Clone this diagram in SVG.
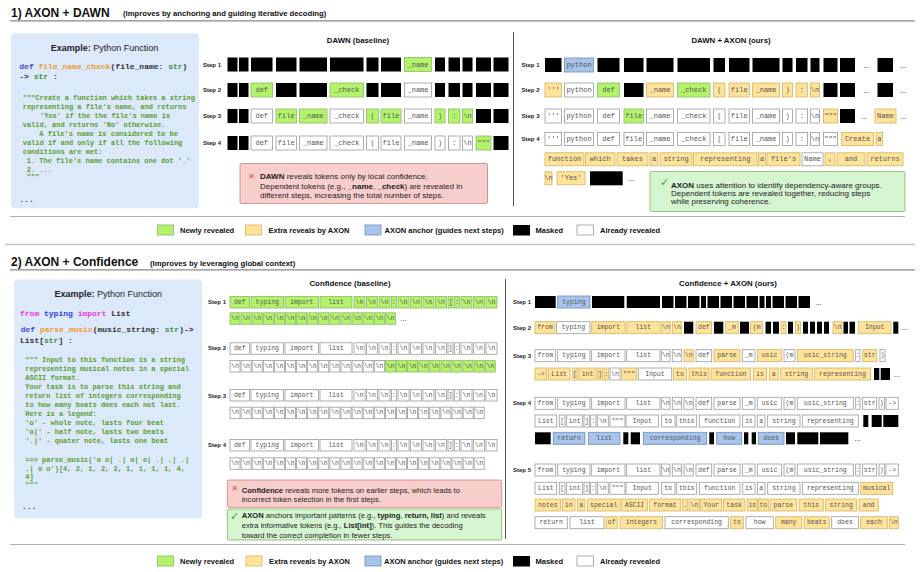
<svg xmlns="http://www.w3.org/2000/svg" width="921" height="572" viewBox="0 0 921 572">
<style>
.k{fill:#000}
.w{fill:#fff;stroke:#9a9a9a;stroke-width:.8}
.g{fill:#b3f36b;stroke:#8cb86b;stroke-width:.8}
.y{fill:#ffe39b;stroke:#d2b460;stroke-width:.8}
.b{fill:#a9c4eb;stroke:#6c8ebf;stroke-width:.8}
.t{font-family:"Liberation Mono","DejaVu Sans Mono",monospace;font-size:7px;fill:#555;text-anchor:middle;dominant-baseline:central}
.u{font-family:"Liberation Mono","DejaVu Sans Mono",monospace;font-size:6.5px;fill:#555;text-anchor:middle;dominant-baseline:central}
.st{font-family:"Liberation Sans",Arial,sans-serif;font-weight:bold;font-size:6px;fill:#222;dominant-baseline:central}
.dots{font-family:"Liberation Sans",Arial,sans-serif;font-size:8px;fill:#333;text-anchor:middle;dominant-baseline:central}
.h1{font-family:"Liberation Sans",Arial,sans-serif;font-weight:bold;font-size:12px;fill:#111}
.h2{font-family:"Liberation Sans",Arial,sans-serif;font-weight:bold;font-size:7.7px;fill:#111}
.ph{font-family:"Liberation Sans",Arial,sans-serif;font-weight:bold;font-size:7.8px;fill:#111;text-anchor:middle}
.lg{font-family:"Liberation Sans",Arial,sans-serif;font-weight:bold;font-size:7.5px;fill:#111;dominant-baseline:central}
.note{font-family:"Liberation Sans",Arial,sans-serif;font-size:8px;fill:#222}
.note2{font-family:"Liberation Sans",Arial,sans-serif;font-size:7.6px;fill:#222}
.ex{font-family:"Liberation Sans",Arial,sans-serif;font-size:9px;fill:#222;text-anchor:middle}
.code{font-family:"Liberation Mono","DejaVu Sans Mono",monospace;font-weight:bold;font-size:7px;fill:#5a9e2e}
.sig{font-family:"Liberation Mono","DejaVu Sans Mono",monospace;font-weight:bold;font-size:8px;fill:#333}
.panel{fill:#dce9fa}
.red{fill:#f8cecc;stroke:#c9827f;stroke-width:.8}
.grn{fill:#d5f5d0;stroke:#82b366;stroke-width:.8}
.xm{font-family:"DejaVu Sans",sans-serif;font-weight:bold;font-size:8px;fill:#e0524f}
.ck{font-family:"DejaVu Sans",sans-serif;font-weight:bold;font-size:11px;fill:#43a047}
.rule{stroke:#888;stroke-width:1.2}
.sep{stroke:#c8c8c8;stroke-width:1.5}
.thin{stroke:#b0b0b0;stroke-width:1}
.div{stroke:#555;stroke-width:1}
</style>

<!-- ===== Section 1 ===== -->
<g id="section1-title">
<text class="h1" x="11" y="16.5">1) AXON + DAWN</text>
<text class="h2" x="123" y="16">(Improves by anchoring and guiding iterative decoding)</text>
<line class="rule" x1="10" y1="20.8" x2="915" y2="20.8"/>
</g>

<g id="example1">
<rect class="panel" x="11" y="33.3" width="188" height="175" rx="4"/>
<text class="ex" x="104.5" y="50.5"><tspan font-weight="bold">Example:</tspan> Python Function</text>
<text class="sig" x="19.3" y="68.5"><tspan fill="#3d4ed8">def</tspan> <tspan fill="#f39a2e">file_name_check</tspan>(file_name: <tspan fill="#3f8f3f">str</tspan>)</text>
<text class="sig" x="19.3" y="79">-&gt; <tspan fill="#3f8f3f">str</tspan> :</text>
<text class="code" x="22.7" y="99.8">"""Create a function which takes a string</text>
<text class="code" x="22.7" y="108.5">representing a file's name, and returns</text>
<text class="code" x="40" y="117.5">'Yes' if the the file's name is</text>
<text class="code" x="22.7" y="126.5">valid, and returns 'No' otherwise.</text>
<text class="code" x="39.3" y="135.5">A file's name is considered to be</text>
<text class="code" x="22.7" y="144.5">valid if and only if all the following</text>
<text class="code" x="22.7" y="153.5">conditions are met:</text>
<text class="code" x="26.7" y="162.5">1. The file's name contains one dot '.'</text>
<text class="code" x="26.7" y="171.5">2. ...</text>
<text class="code" x="26.7" y="179.3" fill="#8fbf70">"""</text>
<text class="sig" x="19.3" y="201.5" font-size="7">...</text>
</g>

<g id="dawn-baseline">
<text class="ph" x="358" y="42.8">DAWN (baseline)</text>
<text class="st" x="203" y="64.5">Step 1</text>
<text class="st" x="203" y="90">Step 2</text>
<text class="st" x="203" y="116">Step 3</text>
<text class="st" x="203" y="143">Step 4</text>
<!-- step 1 -->
<rect class="k" x="227.5" y="57.5" width="10" height="14"/>
<rect class="k" x="239" y="57.5" width="9.5" height="14"/>
<rect class="k" x="251" y="57.5" width="21.5" height="14"/>
<rect class="k" x="276" y="57.5" width="20.5" height="14"/>
<rect class="k" x="299.5" y="57.5" width="27.5" height="14"/>
<rect class="k" x="330" y="57.5" width="33.5" height="14"/>
<rect class="k" x="366.5" y="57.5" width="12" height="14"/>
<rect class="k" x="381" y="57.5" width="20" height="14"/>
<rect class="g" x="404.5" y="57.5" width="27" height="14"/><text class="t" x="418" y="64.5">_name</text>
<rect class="k" x="435" y="57.5" width="10" height="14"/>
<rect class="k" x="448.5" y="57.5" width="11.5" height="14"/>
<rect class="k" x="462.5" y="57.5" width="10" height="14"/>
<rect class="k" x="476" y="57.5" width="15" height="14"/>
<rect class="k" x="493.5" y="57.5" width="15" height="14"/>
<!-- step 2 -->
<rect class="k" x="227.5" y="83" width="10" height="14"/>
<rect class="k" x="239" y="83" width="9.5" height="14"/>
<rect class="g" x="251" y="83" width="21.5" height="14"/><text class="t" x="261.75" y="90">def</text>
<rect class="k" x="276" y="83" width="20.5" height="14"/>
<rect class="k" x="299.5" y="83" width="27.5" height="14"/>
<rect class="g" x="330" y="83" width="33.5" height="14"/><text class="t" x="346.75" y="90">_check</text>
<rect class="k" x="366.5" y="83" width="12" height="14"/>
<rect class="k" x="381" y="83" width="20" height="14"/>
<rect class="w" x="404.5" y="83" width="27" height="14"/><text class="t" x="418" y="90">_name</text>
<rect class="k" x="435" y="83" width="10" height="14"/>
<rect class="k" x="448.5" y="83" width="11.5" height="14"/>
<rect class="k" x="462.5" y="83" width="10" height="14"/>
<rect class="k" x="476" y="83" width="15" height="14"/>
<rect class="k" x="493.5" y="83" width="15" height="14"/>
<!-- step 3 -->
<rect class="k" x="227.5" y="109" width="10" height="14"/>
<rect class="k" x="239" y="109" width="9.5" height="14"/>
<rect class="w" x="251" y="109" width="21.5" height="14"/><text class="t" x="261.75" y="116">def</text>
<rect class="g" x="276" y="109" width="20.5" height="14"/><text class="t" x="286.25" y="116">file</text>
<rect class="g" x="299.5" y="109" width="27.5" height="14"/><text class="t" x="313.25" y="116">_name</text>
<rect class="w" x="330" y="109" width="33.5" height="14"/><text class="t" x="346.75" y="116">_check</text>
<rect class="g" x="366.5" y="109" width="12" height="14"/><text class="t" x="372.5" y="116">(</text>
<rect class="g" x="381" y="109" width="20" height="14"/><text class="t" x="391" y="116">file</text>
<rect class="w" x="404.5" y="109" width="27" height="14"/><text class="t" x="418" y="116">_name</text>
<rect class="g" x="435" y="109" width="10" height="14"/><text class="t" x="440" y="116">)</text>
<rect class="g" x="448.5" y="109" width="11.5" height="14"/><text class="t" x="454.25" y="116">:</text>
<rect class="g" x="462.5" y="109" width="10" height="14"/><text class="t" x="467.5" y="116">\n</text>
<rect class="k" x="476" y="109" width="15" height="14"/>
<rect class="k" x="493.5" y="109" width="15" height="14"/>
<!-- step 4 -->
<rect class="k" x="227.5" y="136" width="10" height="14"/>
<rect class="k" x="239" y="136" width="9.5" height="14"/>
<rect class="w" x="251" y="136" width="21.5" height="14"/><text class="t" x="261.75" y="143">def</text>
<rect class="w" x="276" y="136" width="20.5" height="14"/><text class="t" x="286.25" y="143">file</text>
<rect class="w" x="299.5" y="136" width="27.5" height="14"/><text class="t" x="313.25" y="143">_name</text>
<rect class="w" x="330" y="136" width="33.5" height="14"/><text class="t" x="346.75" y="143">_check</text>
<rect class="w" x="366.5" y="136" width="12" height="14"/><text class="t" x="372.5" y="143">(</text>
<rect class="w" x="381" y="136" width="20" height="14"/><text class="t" x="391" y="143">file</text>
<rect class="w" x="404.5" y="136" width="27" height="14"/><text class="t" x="418" y="143">_name</text>
<rect class="w" x="435" y="136" width="10" height="14"/><text class="t" x="440" y="143">)</text>
<rect class="w" x="448.5" y="136" width="11.5" height="14"/><text class="t" x="454.25" y="143">:</text>
<rect class="w" x="462.5" y="136" width="10" height="14"/><text class="t" x="467.5" y="143">\n</text>
<rect class="g" x="476" y="136" width="15" height="14"/><text class="t" x="483.5" y="143">"""</text>
<rect class="k" x="493.5" y="136" width="15" height="14"/>
</g>

<g id="dawn-note">
<rect class="red" x="240" y="163.5" width="247.5" height="40" rx="1.5"/>
<text class="xm" x="248" y="179">✕</text>
<text class="note" x="260" y="178.8"><tspan font-weight="bold">DAWN</tspan> reveals tokens only by local confidence.</text>
<text class="note" x="260" y="188.5">Dependent tokens (e.g., <tspan font-weight="bold">_name</tspan>, <tspan font-weight="bold">_check</tspan>) are revealed in</text>
<text class="note" x="260" y="197.8">different steps, increasing the total number of steps.</text>
</g>

<line class="div" x1="513.5" y1="32" x2="513.5" y2="206"/>

<g id="dawn-axon">
<text class="ph" x="731" y="42.8">DAWN + AXON (ours)</text>
<text class="st" x="521.5" y="65" font-size="5.6">Step 1</text>
<text class="st" x="521.5" y="90" font-size="5.6">Step 2</text>
<text class="st" x="521.5" y="116" font-size="5.6">Step 3</text>
<text class="st" x="521.5" y="139" font-size="5.6">Step 4</text>
<!-- step 1 -->
<rect class="k" x="545" y="58" width="16.5" height="14"/>
<rect class="b" x="564.5" y="58" width="29" height="14"/><text class="t" x="579" y="65">python</text>
<rect class="k" x="597.5" y="58" width="22" height="14"/>
<rect class="k" x="624" y="58" width="19.5" height="14"/>
<rect class="k" x="646.5" y="58" width="27" height="14"/>
<rect class="k" x="677.5" y="58" width="32.5" height="14"/>
<rect class="k" x="713.5" y="58" width="11.5" height="14"/>
<rect class="k" x="729" y="58" width="20.5" height="14"/>
<rect class="k" x="752.5" y="58" width="27" height="14"/>
<rect class="k" x="782.5" y="58" width="10" height="14"/>
<rect class="k" x="796" y="58" width="11.5" height="14"/>
<rect class="k" x="810.5" y="58" width="9" height="14"/>
<rect class="k" x="823.5" y="58" width="14" height="14"/>
<rect class="k" x="840" y="58" width="15" height="14"/>
<text class="dots" x="866.7" y="65">...</text>
<rect class="k" x="877.5" y="58" width="15.5" height="14"/>
<text class="dots" x="902.5" y="65">...</text>
<!-- step 2 -->
<rect class="y" x="545" y="83" width="16.5" height="14"/><text class="t" x="553.25" y="90">'''</text>
<rect class="w" x="564.5" y="83" width="29" height="14"/><text class="t" x="579" y="90">python</text>
<rect class="g" x="597.5" y="83" width="22" height="14"/><text class="t" x="608.5" y="90">def</text>
<rect class="k" x="624" y="83" width="19.5" height="14"/>
<rect class="y" x="646.5" y="83" width="27" height="14"/><text class="t" x="660" y="90">_name</text>
<rect class="g" x="677.5" y="83" width="32.5" height="14"/><text class="t" x="693.75" y="90">_check</text>
<rect class="y" x="713.5" y="83" width="11.5" height="14"/><text class="t" x="719.25" y="90">(</text>
<rect class="y" x="729" y="83" width="20.5" height="14"/><text class="t" x="739.25" y="90">file</text>
<rect class="y" x="752.5" y="83" width="27" height="14"/><text class="t" x="766" y="90">_name</text>
<rect class="y" x="782.5" y="83" width="10" height="14"/><text class="t" x="787.5" y="90">)</text>
<rect class="y" x="796" y="83" width="11.5" height="14"/><text class="t" x="801.75" y="90">:</text>
<rect class="y" x="810.5" y="83" width="9" height="14"/><text class="t" x="815" y="90">\n</text>
<rect class="k" x="823.5" y="83" width="14" height="14"/>
<rect class="k" x="840" y="83" width="15" height="14"/>
<text class="dots" x="866.7" y="90">...</text>
<rect class="k" x="877.5" y="83" width="15.5" height="14"/>
<text class="dots" x="902.5" y="90">...</text>
<!-- step 3 -->
<rect class="w" x="545" y="109" width="16.5" height="14"/><text class="t" x="553.25" y="116">'''</text>
<rect class="w" x="564.5" y="109" width="29" height="14"/><text class="t" x="579" y="116">python</text>
<rect class="w" x="597.5" y="109" width="22" height="14"/><text class="t" x="608.5" y="116">def</text>
<rect class="g" x="624" y="109" width="19.5" height="14"/><text class="t" x="633.75" y="116">file</text>
<rect class="w" x="646.5" y="109" width="27" height="14"/><text class="t" x="660" y="116">_name</text>
<rect class="w" x="677.5" y="109" width="32.5" height="14"/><text class="t" x="693.75" y="116">_check</text>
<rect class="w" x="713.5" y="109" width="11.5" height="14"/><text class="t" x="719.25" y="116">(</text>
<rect class="w" x="729" y="109" width="20.5" height="14"/><text class="t" x="739.25" y="116">file</text>
<rect class="w" x="752.5" y="109" width="27" height="14"/><text class="t" x="766" y="116">_name</text>
<rect class="w" x="782.5" y="109" width="10" height="14"/><text class="t" x="787.5" y="116">)</text>
<rect class="w" x="796" y="109" width="11.5" height="14"/><text class="t" x="801.75" y="116">:</text>
<rect class="w" x="810.5" y="109" width="9" height="14"/><text class="t" x="815" y="116">\n</text>
<rect class="y" x="823.5" y="109" width="14" height="14"/><text class="t" x="830.5" y="116">"""</text>
<rect class="k" x="840" y="109" width="15" height="14"/>
<text class="dots" x="864" y="116">...</text>
<rect class="y" x="875" y="109" width="21" height="14"/><text class="t" x="885.5" y="116">Name</text>
<text class="dots" x="903.5" y="116">...</text>
<!-- step 4 -->
<rect class="w" x="545" y="132.5" width="16.5" height="13"/><text class="t" x="553.25" y="139">'''</text>
<rect class="w" x="564.5" y="132.5" width="29" height="13"/><text class="t" x="579" y="139">python</text>
<rect class="w" x="597.5" y="132.5" width="22" height="13"/><text class="t" x="608.5" y="139">def</text>
<rect class="w" x="624" y="132.5" width="19.5" height="13"/><text class="t" x="633.75" y="139">file</text>
<rect class="w" x="646.5" y="132.5" width="27" height="13"/><text class="t" x="660" y="139">_name</text>
<rect class="w" x="677.5" y="132.5" width="32.5" height="13"/><text class="t" x="693.75" y="139">_check</text>
<rect class="w" x="713.5" y="132.5" width="11.5" height="13"/><text class="t" x="719.25" y="139">(</text>
<rect class="w" x="729" y="132.5" width="20.5" height="13"/><text class="t" x="739.25" y="139">file</text>
<rect class="w" x="752.5" y="132.5" width="27" height="13"/><text class="t" x="766" y="139">_name</text>
<rect class="w" x="782.5" y="132.5" width="10" height="13"/><text class="t" x="787.5" y="139">)</text>
<rect class="w" x="796" y="132.5" width="11.5" height="13"/><text class="t" x="801.75" y="139">:</text>
<rect class="w" x="810.5" y="132.5" width="9" height="13"/><text class="t" x="815" y="139">\n</text>
<rect class="w" x="823.5" y="132.5" width="14" height="13"/><text class="t" x="830.5" y="139">"""</text>
<rect class="y" x="841.7" y="132.5" width="31.7" height="13"/><text class="t" x="857.5" y="139">Create</text>
<rect class="y" x="876" y="132.5" width="6.7" height="13"/><text class="t" x="879.3" y="139">a</text>
<!-- step 4, line 2 -->
<rect class="y" x="545" y="152.8" width="39" height="13"/><text class="t" x="564.5" y="159.3">function</text>
<rect class="y" x="585.5" y="152.8" width="29.5" height="13"/><text class="t" x="600.25" y="159.3">which</text>
<rect class="y" x="617" y="152.8" width="31" height="13"/><text class="t" x="632.5" y="159.3">takes</text>
<rect class="y" x="650" y="152.8" width="8" height="13"/><text class="t" x="654" y="159.3">a</text>
<rect class="y" x="660" y="152.8" width="32" height="13"/><text class="t" x="676" y="159.3">string</text>
<rect class="y" x="693.5" y="152.8" width="63.5" height="13"/><text class="t" x="725.25" y="159.3">representing</text>
<rect class="y" x="758.5" y="152.8" width="7" height="13"/><text class="t" x="762" y="159.3">a</text>
<rect class="y" x="767" y="152.8" width="33" height="13"/><text class="t" x="783.5" y="159.3">file's</text>
<rect class="w" x="802" y="152.8" width="21" height="13"/><text class="t" x="812.5" y="159.3">Name</text>
<rect class="y" x="825" y="152.8" width="10" height="13"/><text class="t" x="830" y="159.3">,</text>
<rect class="y" x="837" y="152.8" width="28" height="13"/><text class="t" x="851" y="159.3">and</text>
<rect class="y" x="867" y="152.8" width="36" height="13"/><text class="t" x="885" y="159.3">returns</text>
<!-- step 4, line 3 -->
<rect class="y" x="545" y="171.8" width="7" height="13"/><text class="t" x="548.5" y="178.3">\n</text>
<rect class="y" x="557" y="171.8" width="28" height="13"/><text class="t" x="571" y="178.3">'Yes'</text>
<rect class="k" x="590" y="171.3" width="32.7" height="14"/>
<text class="dots" x="631" y="178.3">...</text>
</g>

<g id="axon-note-1">
<rect class="grn" x="650" y="171.5" width="255" height="40" rx="1.5"/>
<text class="ck" x="660" y="186">✓</text>
<text class="note" x="671" y="187.8"><tspan font-weight="bold">AXON</tspan> uses attention to identify dependency-aware groups.</text>
<text class="note" x="671" y="196.1">Dependent tokens are revealed together, reducing steps</text>
<text class="note" x="671" y="203.8">while preserving coherence.</text>
</g>

<line class="thin" x1="10" y1="216.5" x2="905" y2="216.5"/>

<g id="legend-1">
<rect class="g" x="157.5" y="225" width="16" height="10"/><text class="lg" x="180" y="230.5">Newly revealed</text>
<rect class="y" x="245.5" y="225" width="16" height="10"/><text class="lg" x="268.5" y="230.5">Extra reveals by AXON</text>
<rect class="b" x="365" y="225" width="16" height="10"/><text class="lg" x="384.5" y="230.5">AXON anchor (guides next steps)</text>
<rect class="k" x="513" y="225" width="17" height="10.5"/><text class="lg" x="535.5" y="230.5">Masked</text>
<rect class="w" x="577" y="225" width="16.5" height="10" stroke="#333"/><text class="lg" x="600" y="230.5">Already revealed</text>
</g>

<line class="sep" x1="5" y1="244.5" x2="915" y2="244.5"/>

<!-- ===== Section 2 ===== -->
<g id="section2-title">
<text class="h1" x="11" y="266">2) AXON + Confidence</text>
<text class="h2" x="150" y="265.5">(Improves by leveraging global context)</text>
<line class="rule" x1="10" y1="269.8" x2="915" y2="269.8"/>
</g>

<g id="example2">
<rect class="panel" x="14" y="279.5" width="188" height="239" rx="4"/>
<text class="ex" x="108.3" y="297.2"><tspan font-weight="bold">Example:</tspan> Python Function</text>
<text class="sig" x="20" y="316"><tspan fill="#e040e0">from</tspan> <tspan fill="#2f3fe0">typing</tspan> <tspan fill="#e040e0">import</tspan> List</text>
<text class="sig" x="20.7" y="332"><tspan fill="#3d4ed8">def</tspan> <tspan fill="#f39a2e">parse_music</tspan>(music_string: <tspan fill="#3f8f3f">str</tspan>)-&gt;</text>
<text class="sig" x="20" y="342.8">List[<tspan fill="#3f8f3f">str</tspan>] :</text>
<text class="code" x="25.3" y="361.7">""" Input to this function is a string</text>
<text class="code" x="25.3" y="371.1">representing musical notes in a special</text>
<text class="code" x="25.3" y="380.1">ASCII format.</text>
<text class="code" x="25.3" y="389.1">Your task is to parse this string and</text>
<text class="code" x="25.3" y="398.1">return list of integers corresponding</text>
<text class="code" x="25.3" y="407.1">to how many beats does each not last.</text>
<text class="code" x="25.3" y="416.1">Here is a legend:</text>
<text class="code" x="25.3" y="425.1">'o' - whole note, lasts four beat</text>
<text class="code" x="25.3" y="433.7">'o|' - half note, lasts two beats</text>
<text class="code" x="25.3" y="442.7">'.|' - quater note, lasts one beat</text>
<text class="code" x="25.3" y="461.7">&gt;&gt;&gt; parse_music('o o| .| o| o| .| .| .|</text>
<text class="code" x="25.3" y="470.7">.| o o')[4, 2, 1, 2, 2, 1, 1, 1, 1, 4,</text>
<text class="code" x="25.3" y="479.1">4]</text>
<text class="code" x="25.3" y="486.7" fill="#8fbf70">"""</text>
<text class="sig" x="22" y="509" font-size="7">...</text>
</g>

<g id="confidence-baseline">
<text class="ph" x="350" y="285.5">Confidence (baseline)</text>
<text class="st" x="208" y="302">Step 1</text>
<text class="st" x="208" y="348.3">Step 2</text>
<text class="st" x="208" y="396">Step 3</text>
<text class="st" x="208" y="444.7">Step 4</text>
<!-- step 1 row 1 -->
<rect class="g" x="230" y="296.5" width="19.5" height="11.5"/><text class="u" x="239.75" y="302.25">def</text>
<rect class="g" x="251" y="296.5" width="32.5" height="11.5"/><text class="u" x="267.25" y="302.25">typing</text>
<rect class="g" x="285" y="296.5" width="33.5" height="11.5"/><text class="u" x="301.75" y="302.25">import</text>
<rect class="g" x="320" y="296.5" width="32" height="11.5"/><text class="u" x="336" y="302.25">list</text>
<rect class="g" x="354" y="296.5" width="11" height="11.5"/><text class="u" x="359.5" y="302.25">\n</text>
<rect class="g" x="366.5" y="296.5" width="11" height="11.5"/><text class="u" x="372" y="302.25">\n</text>
<rect class="g" x="379" y="296.5" width="11" height="11.5"/><text class="u" x="384.5" y="302.25">\n</text>
<rect class="g" x="391.5" y="296.5" width="5" height="11.5"/><text class="u" x="394" y="302.25">:</text>
<rect class="g" x="398" y="296.5" width="11" height="11.5"/><text class="u" x="403.5" y="302.25">\n</text>
<rect class="g" x="410.5" y="296.5" width="11" height="11.5"/><text class="u" x="416" y="302.25">\n</text>
<rect class="g" x="423" y="296.5" width="11" height="11.5"/><text class="u" x="428.5" y="302.25">\n</text>
<rect class="g" x="435.5" y="296.5" width="11" height="11.5"/><text class="u" x="441" y="302.25">\n</text>
<rect class="g" x="448" y="296.5" width="5" height="11.5"/><text class="u" x="450.5" y="302.25">]</text>
<rect class="g" x="454.5" y="296.5" width="5" height="11.5"/><text class="u" x="457" y="302.25">:</text>
<rect class="g" x="461" y="296.5" width="11" height="11.5"/><text class="u" x="466.5" y="302.25">\n</text>
<rect class="g" x="473.5" y="296.5" width="11" height="11.5"/><text class="u" x="479" y="302.25">\n</text>
<rect class="g" x="486" y="296.5" width="11" height="11.5"/><text class="u" x="491.5" y="302.25">\n</text>
<!-- step 1 row 2 -->
<rect class="g" x="230" y="312.8" width="10" height="11.5"/><text class="u" x="235" y="318.55">\n</text>
<rect class="g" x="241.1" y="312.8" width="10" height="11.5"/><text class="u" x="246.1" y="318.55">\n</text>
<rect class="g" x="252.2" y="312.8" width="10" height="11.5"/><text class="u" x="257.2" y="318.55">\n</text>
<rect class="g" x="263.3" y="312.8" width="10" height="11.5"/><text class="u" x="268.3" y="318.55">\n</text>
<rect class="g" x="274.4" y="312.8" width="10" height="11.5"/><text class="u" x="279.4" y="318.55">\n</text>
<rect class="g" x="285.5" y="312.8" width="10" height="11.5"/><text class="u" x="290.5" y="318.55">\n</text>
<rect class="g" x="296.6" y="312.8" width="10" height="11.5"/><text class="u" x="301.6" y="318.55">\n</text>
<rect class="g" x="307.7" y="312.8" width="10" height="11.5"/><text class="u" x="312.7" y="318.55">\n</text>
<rect class="g" x="318.8" y="312.8" width="10" height="11.5"/><text class="u" x="323.8" y="318.55">\n</text>
<rect class="g" x="329.9" y="312.8" width="10" height="11.5"/><text class="u" x="334.9" y="318.55">\n</text>
<rect class="g" x="341" y="312.8" width="10" height="11.5"/><text class="u" x="346" y="318.55">\n</text>
<rect class="g" x="352.1" y="312.8" width="10" height="11.5"/><text class="u" x="357.1" y="318.55">\n</text>
<rect class="g" x="363.2" y="312.8" width="10" height="11.5"/><text class="u" x="368.2" y="318.55">\n</text>
<rect class="g" x="374.3" y="312.8" width="10" height="11.5"/><text class="u" x="379.3" y="318.55">\n</text>
<rect class="g" x="385.4" y="312.8" width="10" height="11.5"/><text class="u" x="390.4" y="318.55">\n</text>
<text class="dots" x="403.5" y="318.5">...</text>
<!-- step 2 row 1 -->
<rect class="w" x="230" y="342.8" width="19.5" height="11.5"/><text class="u" x="239.75" y="348.55">def</text>
<rect class="w" x="251" y="342.8" width="32.5" height="11.5"/><text class="u" x="267.25" y="348.55">typing</text>
<rect class="w" x="285" y="342.8" width="33.5" height="11.5"/><text class="u" x="301.75" y="348.55">import</text>
<rect class="w" x="320" y="342.8" width="32" height="11.5"/><text class="u" x="336" y="348.55">list</text>
<rect class="w" x="354" y="342.8" width="11" height="11.5"/><text class="u" x="359.5" y="348.55">\n</text>
<rect class="w" x="366.5" y="342.8" width="11" height="11.5"/><text class="u" x="372" y="348.55">\n</text>
<rect class="w" x="379" y="342.8" width="11" height="11.5"/><text class="u" x="384.5" y="348.55">\n</text>
<rect class="w" x="391.5" y="342.8" width="5" height="11.5"/><text class="u" x="394" y="348.55">:</text>
<rect class="w" x="398" y="342.8" width="11" height="11.5"/><text class="u" x="403.5" y="348.55">\n</text>
<rect class="w" x="410.5" y="342.8" width="11" height="11.5"/><text class="u" x="416" y="348.55">\n</text>
<rect class="w" x="423" y="342.8" width="11" height="11.5"/><text class="u" x="428.5" y="348.55">\n</text>
<rect class="w" x="435.5" y="342.8" width="11" height="11.5"/><text class="u" x="441" y="348.55">\n</text>
<rect class="w" x="448" y="342.8" width="5" height="11.5"/><text class="u" x="450.5" y="348.55">]</text>
<rect class="w" x="454.5" y="342.8" width="5" height="11.5"/><text class="u" x="457" y="348.55">:</text>
<rect class="w" x="461" y="342.8" width="11" height="11.5"/><text class="u" x="466.5" y="348.55">\n</text>
<rect class="w" x="473.5" y="342.8" width="11" height="11.5"/><text class="u" x="479" y="348.55">\n</text>
<rect class="w" x="486" y="342.8" width="11" height="11.5"/><text class="u" x="491.5" y="348.55">\n</text>
<!-- step 2 row 2 -->
<rect class="w" x="230" y="360.5" width="10" height="11.5"/><text class="u" x="235" y="366.25">\n</text>
<rect class="w" x="241.1" y="360.5" width="10" height="11.5"/><text class="u" x="246.1" y="366.25">\n</text>
<rect class="w" x="252.2" y="360.5" width="10" height="11.5"/><text class="u" x="257.2" y="366.25">\n</text>
<rect class="w" x="263.3" y="360.5" width="10" height="11.5"/><text class="u" x="268.3" y="366.25">\n</text>
<rect class="w" x="274.4" y="360.5" width="10" height="11.5"/><text class="u" x="279.4" y="366.25">\n</text>
<rect class="w" x="285.5" y="360.5" width="10" height="11.5"/><text class="u" x="290.5" y="366.25">\n</text>
<rect class="w" x="296.6" y="360.5" width="10" height="11.5"/><text class="u" x="301.6" y="366.25">\n</text>
<rect class="w" x="307.7" y="360.5" width="10" height="11.5"/><text class="u" x="312.7" y="366.25">\n</text>
<rect class="w" x="318.8" y="360.5" width="10" height="11.5"/><text class="u" x="323.8" y="366.25">\n</text>
<rect class="w" x="329.9" y="360.5" width="10" height="11.5"/><text class="u" x="334.9" y="366.25">\n</text>
<rect class="w" x="341" y="360.5" width="10" height="11.5"/><text class="u" x="346" y="366.25">\n</text>
<rect class="w" x="352.1" y="360.5" width="10" height="11.5"/><text class="u" x="357.1" y="366.25">\n</text>
<rect class="w" x="363.2" y="360.5" width="10" height="11.5"/><text class="u" x="368.2" y="366.25">\n</text>
<rect class="w" x="374.3" y="360.5" width="10" height="11.5"/><text class="u" x="379.3" y="366.25">\n</text>
<rect class="g" x="385.4" y="360.5" width="10" height="11.5"/><text class="u" x="390.4" y="366.25">\n</text>
<rect class="g" x="396.5" y="360.5" width="10" height="11.5"/><text class="u" x="401.5" y="366.25">\n</text>
<rect class="g" x="407.6" y="360.5" width="10" height="11.5"/><text class="u" x="412.6" y="366.25">\n</text>
<rect class="g" x="418.7" y="360.5" width="10" height="11.5"/><text class="u" x="423.7" y="366.25">\n</text>
<rect class="g" x="429.8" y="360.5" width="10" height="11.5"/><text class="u" x="434.8" y="366.25">\n</text>
<rect class="g" x="440.9" y="360.5" width="10" height="11.5"/><text class="u" x="445.9" y="366.25">\n</text>
<rect class="g" x="452" y="360.5" width="10" height="11.5"/><text class="u" x="457" y="366.25">\n</text>
<rect class="g" x="463.1" y="360.5" width="10" height="11.5"/><text class="u" x="468.1" y="366.25">\n</text>
<rect class="g" x="474.2" y="360.5" width="10" height="11.5"/><text class="u" x="479.2" y="366.25">\n</text>
<rect class="g" x="485.3" y="360.5" width="10" height="11.5"/><text class="u" x="490.3" y="366.25">\n</text>
<!-- step 3 row 1 -->
<rect class="w" x="230" y="389.5" width="19.5" height="11.5"/><text class="u" x="239.75" y="395.25">def</text>
<rect class="w" x="251" y="389.5" width="32.5" height="11.5"/><text class="u" x="267.25" y="395.25">typing</text>
<rect class="w" x="285" y="389.5" width="33.5" height="11.5" fill="#eee"/><text class="u" x="301.75" y="395.25">import</text>
<rect class="w" x="320" y="389.5" width="32" height="11.5"/><text class="u" x="336" y="395.25">list</text>
<rect class="w" x="354" y="389.5" width="11" height="11.5"/><text class="u" x="359.5" y="395.25">\n</text>
<rect class="w" x="366.5" y="389.5" width="11" height="11.5"/><text class="u" x="372" y="395.25">\n</text>
<rect class="w" x="379" y="389.5" width="11" height="11.5"/><text class="u" x="384.5" y="395.25">\n</text>
<rect class="w" x="391.5" y="389.5" width="5" height="11.5"/><text class="u" x="394" y="395.25">:</text>
<rect class="w" x="398" y="389.5" width="11" height="11.5"/><text class="u" x="403.5" y="395.25">\n</text>
<rect class="w" x="410.5" y="389.5" width="11" height="11.5"/><text class="u" x="416" y="395.25">\n</text>
<rect class="w" x="423" y="389.5" width="11" height="11.5"/><text class="u" x="428.5" y="395.25">\n</text>
<rect class="w" x="435.5" y="389.5" width="11" height="11.5"/><text class="u" x="441" y="395.25">\n</text>
<rect class="w" x="448" y="389.5" width="5" height="11.5"/><text class="u" x="450.5" y="395.25">]</text>
<rect class="w" x="454.5" y="389.5" width="5" height="11.5"/><text class="u" x="457" y="395.25">:</text>
<rect class="w" x="461" y="389.5" width="11" height="11.5"/><text class="u" x="466.5" y="395.25">\n</text>
<rect class="w" x="473.5" y="389.5" width="11" height="11.5"/><text class="u" x="479" y="395.25">\n</text>
<rect class="w" x="486" y="389.5" width="11" height="11.5"/><text class="u" x="491.5" y="395.25">\n</text>
<!-- step 3 row 2 -->
<rect class="w" x="230" y="407.2" width="10" height="11.5"/><text class="u" x="235" y="412.95">\n</text>
<rect class="w" x="241.1" y="407.2" width="10" height="11.5"/><text class="u" x="246.1" y="412.95">\n</text>
<rect class="w" x="252.2" y="407.2" width="10" height="11.5"/><text class="u" x="257.2" y="412.95">\n</text>
<rect class="w" x="263.3" y="407.2" width="10" height="11.5"/><text class="u" x="268.3" y="412.95">\n</text>
<rect class="w" x="274.4" y="407.2" width="10" height="11.5"/><text class="u" x="279.4" y="412.95">\n</text>
<rect class="w" x="285.5" y="407.2" width="10" height="11.5"/><text class="u" x="290.5" y="412.95">\n</text>
<rect class="w" x="296.6" y="407.2" width="10" height="11.5"/><text class="u" x="301.6" y="412.95">\n</text>
<rect class="w" x="307.7" y="407.2" width="10" height="11.5"/><text class="u" x="312.7" y="412.95">\n</text>
<rect class="w" x="318.8" y="407.2" width="10" height="11.5"/><text class="u" x="323.8" y="412.95">\n</text>
<rect class="w" x="329.9" y="407.2" width="10" height="11.5"/><text class="u" x="334.9" y="412.95">\n</text>
<rect class="w" x="341" y="407.2" width="10" height="11.5"/><text class="u" x="346" y="412.95">\n</text>
<rect class="w" x="352.1" y="407.2" width="10" height="11.5"/><text class="u" x="357.1" y="412.95">\n</text>
<rect class="w" x="363.2" y="407.2" width="10" height="11.5"/><text class="u" x="368.2" y="412.95">\n</text>
<rect class="w" x="374.3" y="407.2" width="10" height="11.5"/><text class="u" x="379.3" y="412.95">\n</text>
<rect class="w" x="385.4" y="407.2" width="10" height="11.5"/><text class="u" x="390.4" y="412.95">\n</text>
<rect class="w" x="396.5" y="407.2" width="10" height="11.5"/><text class="u" x="401.5" y="412.95">\n</text>
<rect class="w" x="407.6" y="407.2" width="10" height="11.5"/><text class="u" x="412.6" y="412.95">\n</text>
<rect class="w" x="418.7" y="407.2" width="10" height="11.5"/><text class="u" x="423.7" y="412.95">\n</text>
<rect class="w" x="429.8" y="407.2" width="10" height="11.5"/><text class="u" x="434.8" y="412.95">\n</text>
<rect class="w" x="440.9" y="407.2" width="10" height="11.5"/><text class="u" x="445.9" y="412.95">\n</text>
<rect class="w" x="452" y="407.2" width="10" height="11.5"/><text class="u" x="457" y="412.95">\n</text>
<rect class="w" x="463.1" y="407.2" width="10" height="11.5"/><text class="u" x="468.1" y="412.95">\n</text>
<rect class="w" x="474.2" y="407.2" width="10" height="11.5"/><text class="u" x="479.2" y="412.95">\n</text>
<!-- step 4 row 1 -->
<rect class="w" x="230" y="439.5" width="19.5" height="11.5"/><text class="u" x="239.75" y="445.25">def</text>
<rect class="w" x="251" y="439.5" width="32.5" height="11.5"/><text class="u" x="267.25" y="445.25">typing</text>
<rect class="w" x="285" y="439.5" width="33.5" height="11.5"/><text class="u" x="301.75" y="445.25">import</text>
<rect class="w" x="320" y="439.5" width="32" height="11.5"/><text class="u" x="336" y="445.25">list</text>
<rect class="w" x="354" y="439.5" width="11" height="11.5"/><text class="u" x="359.5" y="445.25">\n</text>
<rect class="w" x="366.5" y="439.5" width="11" height="11.5"/><text class="u" x="372" y="445.25">\n</text>
<rect class="w" x="379" y="439.5" width="11" height="11.5"/><text class="u" x="384.5" y="445.25">\n</text>
<rect class="w" x="391.5" y="439.5" width="5" height="11.5"/><text class="u" x="394" y="445.25">:</text>
<rect class="w" x="398" y="439.5" width="11" height="11.5"/><text class="u" x="403.5" y="445.25">\n</text>
<rect class="w" x="410.5" y="439.5" width="11" height="11.5"/><text class="u" x="416" y="445.25">\n</text>
<rect class="w" x="423" y="439.5" width="11" height="11.5"/><text class="u" x="428.5" y="445.25">\n</text>
<rect class="w" x="435.5" y="439.5" width="11" height="11.5"/><text class="u" x="441" y="445.25">\n</text>
<rect class="w" x="448" y="439.5" width="5" height="11.5"/><text class="u" x="450.5" y="445.25">]</text>
<rect class="w" x="454.5" y="439.5" width="5" height="11.5"/><text class="u" x="457" y="445.25">:</text>
<rect class="w" x="461" y="439.5" width="11" height="11.5"/><text class="u" x="466.5" y="445.25">\n</text>
<rect class="w" x="473.5" y="439.5" width="11" height="11.5"/><text class="u" x="479" y="445.25">\n</text>
<rect class="w" x="486" y="439.5" width="11" height="11.5"/><text class="u" x="491.5" y="445.25">\n</text>
<!-- step 4 row 2 -->
<rect class="w" x="230" y="457.8" width="10" height="11.5"/><text class="u" x="235" y="463.55">\n</text>
<rect class="w" x="241.1" y="457.8" width="10" height="11.5"/><text class="u" x="246.1" y="463.55">\n</text>
<rect class="w" x="252.2" y="457.8" width="10" height="11.5"/><text class="u" x="257.2" y="463.55">\n</text>
<rect class="w" x="263.3" y="457.8" width="10" height="11.5"/><text class="u" x="268.3" y="463.55">\n</text>
<rect class="w" x="274.4" y="457.8" width="10" height="11.5"/><text class="u" x="279.4" y="463.55">\n</text>
<rect class="w" x="285.5" y="457.8" width="10" height="11.5"/><text class="u" x="290.5" y="463.55">\n</text>
<rect class="w" x="296.6" y="457.8" width="10" height="11.5"/><text class="u" x="301.6" y="463.55">\n</text>
<rect class="w" x="307.7" y="457.8" width="10" height="11.5"/><text class="u" x="312.7" y="463.55">\n</text>
<rect class="w" x="318.8" y="457.8" width="10" height="11.5"/><text class="u" x="323.8" y="463.55">\n</text>
<rect class="w" x="329.9" y="457.8" width="10" height="11.5"/><text class="u" x="334.9" y="463.55">\n</text>
<rect class="w" x="341" y="457.8" width="10" height="11.5"/><text class="u" x="346" y="463.55">\n</text>
<rect class="w" x="352.1" y="457.8" width="10" height="11.5"/><text class="u" x="357.1" y="463.55">\n</text>
<rect class="w" x="363.2" y="457.8" width="10" height="11.5"/><text class="u" x="368.2" y="463.55">\n</text>
<rect class="w" x="374.3" y="457.8" width="10" height="11.5"/><text class="u" x="379.3" y="463.55">\n</text>
<rect class="w" x="385.4" y="457.8" width="10" height="11.5"/><text class="u" x="390.4" y="463.55">\n</text>
<rect class="w" x="396.5" y="457.8" width="10" height="11.5"/><text class="u" x="401.5" y="463.55">\n</text>
<rect class="w" x="407.6" y="457.8" width="10" height="11.5"/><text class="u" x="412.6" y="463.55">\n</text>
<rect class="w" x="418.7" y="457.8" width="10" height="11.5"/><text class="u" x="423.7" y="463.55">\n</text>
<rect class="w" x="429.8" y="457.8" width="10" height="11.5"/><text class="u" x="434.8" y="463.55">\n</text>
<rect class="w" x="440.9" y="457.8" width="10" height="11.5"/><text class="u" x="445.9" y="463.55">\n</text>
<rect class="w" x="452" y="457.8" width="10" height="11.5"/><text class="u" x="457" y="463.55">\n</text>
<rect class="w" x="463.1" y="457.8" width="10" height="11.5"/><text class="u" x="468.1" y="463.55">\n</text>
<rect class="w" x="474.2" y="457.8" width="10" height="11.5"/><text class="u" x="479.2" y="463.55">\n</text>
</g>

<g id="confidence-notes">
<rect class="red" x="227.3" y="480" width="274.4" height="27.3" rx="1.5"/>
<text class="xm" x="231.5" y="491">✕</text>
<text class="note2" x="241.7" y="492.7"><tspan font-weight="bold">Confidence</tspan> reveals more tokens on earlier steps, which leads to</text>
<text class="note2" x="241.7" y="502">incorrect token selection in the first steps.</text>
<rect class="grn" x="227.3" y="509" width="274.4" height="31" rx="1.5"/>
<text class="ck" x="230" y="520">✓</text>
<text class="note2" x="241.7" y="518.4"><tspan font-weight="bold">AXON</tspan> anchors important patterns (e.g., <tspan font-weight="bold">typing</tspan>, <tspan font-weight="bold">return, list</tspan>) and reveals</text>
<text class="note2" x="241.7" y="527.7">extra informative tokens (e.g., <tspan font-weight="bold">List[int]</tspan>). This guides the decoding</text>
<text class="note2" x="241.7" y="537.7">toward the correct completion in fewer steps.</text>
</g>

<line class="div" x1="505.5" y1="279" x2="505.5" y2="539"/>

<g id="confidence-axon">
<text class="ph" x="728" y="285.5">Confidence + AXON (ours)</text>
<text class="st" x="513" y="302">Step 1</text>
<text class="st" x="513" y="327.7">Step 2</text>
<text class="st" x="513" y="355.7">Step 3</text>
<text class="st" x="513" y="403.3">Step 4</text>
<text class="st" x="513" y="470">Step 5</text>
<!-- step 1 -->
<rect class="k" x="535" y="296" width="20.7" height="12"/>
<rect class="b" x="557.7" y="296" width="32.3" height="12"/><text class="u" x="573.85" y="302">typing</text>
<rect class="k" x="592" y="296" width="32.3" height="12"/>
<rect class="k" x="626.7" y="296" width="33.3" height="12"/>
<rect class="k" x="662" y="296" width="11.5" height="12"/>
<rect class="k" x="675" y="296" width="11.5" height="12"/>
<rect class="k" x="688" y="296" width="11.5" height="12"/>
<rect class="k" x="701" y="296" width="5" height="12"/>
<rect class="k" x="707.5" y="296" width="11.5" height="12"/>
<rect class="k" x="720.5" y="296" width="11.5" height="12"/>
<rect class="k" x="733.5" y="296" width="11.5" height="12"/>
<rect class="k" x="746.5" y="296" width="11.5" height="12"/>
<rect class="k" x="759.5" y="296" width="5" height="12"/>
<rect class="k" x="766" y="296" width="5" height="12"/>
<rect class="k" x="772.5" y="296" width="11.5" height="12"/>
<rect class="k" x="785.5" y="296" width="11.5" height="12"/>
<rect class="k" x="798.5" y="296" width="11.5" height="12"/>
<text class="dots" x="818.5" y="302">...</text>
<!-- step 2 -->
<rect class="y" x="535" y="321.7" width="20" height="12"/><text class="u" x="545" y="327.7">from</text>
<rect class="w" x="556.7" y="321.7" width="33.3" height="12"/><text class="u" x="573.35" y="327.7">typing</text>
<rect class="y" x="591.7" y="321.7" width="33.3" height="12"/><text class="u" x="608.35" y="327.7">import</text>
<rect class="y" x="626.7" y="321.7" width="33.3" height="12"/><text class="u" x="643.35" y="327.7">list</text>
<rect class="y" x="661.7" y="321.7" width="8.6" height="12"/><text class="u" x="666" y="327.7">\n</text>
<rect class="y" x="672.3" y="321.7" width="9.4" height="12"/><text class="u" x="677" y="327.7">\n</text>
<rect class="k" x="684" y="321.7" width="9.3" height="12"/>
<rect class="y" x="696" y="321.7" width="15.7" height="12"/><text class="u" x="703.85" y="327.7">def</text>
<rect class="k" x="714" y="321.7" width="9.3" height="12"/>
<rect class="y" x="725.7" y="321.7" width="12.6" height="12"/><text class="u" x="732" y="327.7">_m</text>
<rect class="k" x="740" y="321.7" width="9" height="12"/>
<rect class="y" x="750.7" y="321.7" width="12" height="12"/><text class="u" x="756.7" y="327.7">(m</text>
<rect class="k" x="765.5" y="321.7" width="5.5" height="12"/>
<rect class="k" x="773" y="321.7" width="6" height="12"/>
<rect class="y" x="781" y="321.7" width="5" height="12"/><text class="u" x="783.5" y="327.7">:</text>
<rect class="k" x="788" y="321.7" width="5" height="12"/>
<rect class="y" x="795.5" y="321.7" width="5" height="12"/><text class="u" x="798" y="327.7">)</text>
<rect class="k" x="803" y="321.7" width="5" height="12"/>
<rect class="k" x="810" y="321.7" width="5" height="12"/>
<rect class="k" x="817" y="321.7" width="5" height="12"/>
<rect class="k" x="824" y="321.7" width="5" height="12"/>
<rect class="y" x="833" y="321.7" width="9" height="12"/><text class="u" x="837.5" y="327.7">\n</text>
<rect class="k" x="843.5" y="321.7" width="4.5" height="12"/>
<rect class="k" x="849.5" y="321.7" width="5.5" height="12"/>
<rect class="y" x="858.3" y="321.7" width="32.7" height="12"/><text class="u" x="874.65" y="327.7">Input</text>
<rect class="k" x="893.3" y="321.7" width="5" height="12"/>
<text class="dots" x="904.5" y="327.7">...</text>
<!-- step 3 row 1 -->
<rect class="w" x="535" y="349.7" width="20.7" height="12"/><text class="u" x="545.35" y="355.7">from</text>
<rect class="w" x="557.7" y="349.7" width="32.3" height="12"/><text class="u" x="573.85" y="355.7">typing</text>
<rect class="w" x="591.7" y="349.7" width="33.3" height="12"/><text class="u" x="608.35" y="355.7">import</text>
<rect class="w" x="626.7" y="349.7" width="33.3" height="12"/><text class="u" x="643.35" y="355.7">list</text>
<rect class="w" x="661.7" y="349.7" width="8.3" height="12"/><text class="u" x="665.85" y="355.7">\n</text>
<rect class="w" x="672.3" y="349.7" width="9.4" height="12"/><text class="u" x="677" y="355.7">\n</text>
<rect class="y" x="684" y="349.7" width="9.3" height="12" stroke="#a08030"/><text class="u" x="688.65" y="355.7">\n</text>
<rect class="w" x="696" y="349.7" width="15.7" height="12"/><text class="u" x="703.85" y="355.7">def</text>
<rect class="y" x="714" y="349.7" width="26" height="12"/><text class="u" x="727" y="355.7">parse</text>
<rect class="w" x="742.3" y="349.7" width="12.7" height="12"/><text class="u" x="748.65" y="355.7">_m</text>
<rect class="y" x="757.3" y="349.7" width="24.4" height="12"/><text class="u" x="769.5" y="355.7">usic</text>
<rect class="w" x="784" y="349.7" width="11" height="12"/><text class="u" x="789.5" y="355.7">(m</text>
<rect class="y" x="797.3" y="349.7" width="56" height="12"/><text class="u" x="825.3" y="355.7">usic_string</text>
<rect class="w" x="855.7" y="349.7" width="4.3" height="12"/><text class="u" x="857.85" y="355.7">:</text>
<rect class="y" x="862.7" y="349.7" width="14" height="12"/><text class="u" x="869.7" y="355.7">str</text>
<rect class="w" x="880" y="349.7" width="5" height="12"/><text class="u" x="882.5" y="355.7">)</text>
<!-- step 3 row 2 -->
<rect class="y" x="535" y="368" width="11.7" height="12"/><text class="u" x="540.85" y="374">-&gt;</text>
<rect class="y" x="548.3" y="368" width="21.7" height="12"/><text class="u" x="559.15" y="374">List</text>
<rect class="y" x="572.7" y="368" width="4.6" height="12"/><text class="u" x="575" y="374">[</text>
<rect class="y" x="579" y="368" width="17" height="12"/><text class="u" x="587.5" y="374">int</text>
<rect class="y" x="597.7" y="368" width="4.6" height="12"/><text class="u" x="600" y="374">]</text>
<rect class="y" x="604" y="368" width="4.3" height="12"/><text class="u" x="606.15" y="374">:</text>
<rect class="w" x="610" y="368" width="10" height="12"/><text class="u" x="615" y="374">\n</text>
<rect class="y" x="621.7" y="368" width="15" height="12"/><text class="u" x="629.2" y="374">"""</text>
<rect class="w" x="638.3" y="368" width="33.4" height="12"/><text class="u" x="655" y="374">Input</text>
<rect class="y" x="673.3" y="368" width="13.4" height="12"/><text class="u" x="680" y="374">to</text>
<rect class="y" x="689" y="368" width="20" height="12"/><text class="u" x="699" y="374">this</text>
<rect class="y" x="711" y="368" width="39.7" height="12"/><text class="u" x="730.85" y="374">function</text>
<rect class="y" x="753.3" y="368" width="13.4" height="12"/><text class="u" x="760" y="374">is</text>
<rect class="y" x="769.3" y="368" width="9" height="12"/><text class="u" x="773.8" y="374">a</text>
<rect class="y" x="780.7" y="368" width="31.6" height="12"/><text class="u" x="796.5" y="374">string</text>
<rect class="y" x="814.3" y="368" width="56.4" height="12"/><text class="u" x="842.5" y="374">representing</text>
<rect class="k" x="874" y="368" width="5.3" height="12"/>
<rect class="k" x="880.7" y="368" width="9.3" height="12"/>
<text class="dots" x="897" y="374">...</text>
<!-- step 4 row 1 -->
<rect class="w" x="535" y="397.3" width="20.7" height="12"/><text class="u" x="545.35" y="403.3">from</text>
<rect class="w" x="557.7" y="397.3" width="32.3" height="12"/><text class="u" x="573.85" y="403.3">typing</text>
<rect class="w" x="591.7" y="397.3" width="33.3" height="12"/><text class="u" x="608.35" y="403.3">import</text>
<rect class="w" x="626.7" y="397.3" width="33.3" height="12"/><text class="u" x="643.35" y="403.3">list</text>
<rect class="w" x="661.7" y="397.3" width="8.3" height="12"/><text class="u" x="665.85" y="403.3">\n</text>
<rect class="w" x="672.3" y="397.3" width="9.4" height="12"/><text class="u" x="677" y="403.3">\n</text>
<rect class="w" x="684" y="397.3" width="9.3" height="12"/><text class="u" x="688.65" y="403.3">\n</text>
<rect class="w" x="696" y="397.3" width="15.7" height="12"/><text class="u" x="703.85" y="403.3">def</text>
<rect class="w" x="714" y="397.3" width="26" height="12"/><text class="u" x="727" y="403.3">parse</text>
<rect class="w" x="742.3" y="397.3" width="12.7" height="12"/><text class="u" x="748.65" y="403.3">_m</text>
<rect class="w" x="757.3" y="397.3" width="24.4" height="12"/><text class="u" x="769.5" y="403.3">usic</text>
<rect class="w" x="784" y="397.3" width="11" height="12"/><text class="u" x="789.5" y="403.3">(m</text>
<rect class="w" x="797.3" y="397.3" width="56" height="12"/><text class="u" x="825.3" y="403.3">usic_string</text>
<rect class="w" x="855.7" y="397.3" width="4.3" height="12"/><text class="u" x="857.85" y="403.3">:</text>
<rect class="w" x="862.7" y="397.3" width="14" height="12"/><text class="u" x="869.7" y="403.3">str</text>
<rect class="w" x="879" y="397.3" width="5.5" height="12"/><text class="u" x="881.75" y="403.3">)</text>
<rect class="w" x="886" y="397.3" width="12.3" height="12"/><text class="u" x="892.15" y="403.3">-&gt;</text>
<!-- step 4 row 2 -->
<rect class="w" x="535" y="415" width="21.7" height="12"/><text class="u" x="545.85" y="421">List</text>
<rect class="w" x="559.3" y="415" width="5.7" height="12"/><text class="u" x="562.15" y="421">[</text>
<rect class="w" x="566.7" y="415" width="16" height="12"/><text class="u" x="574.7" y="421">int</text>
<rect class="w" x="584" y="415" width="5.3" height="12"/><text class="u" x="586.65" y="421">]</text>
<rect class="w" x="590.7" y="415" width="5.3" height="12"/><text class="u" x="593.35" y="421">:</text>
<rect class="w" x="597.3" y="415" width="11" height="12"/><text class="u" x="602.8" y="421">\n</text>
<rect class="w" x="610" y="415" width="15" height="12"/><text class="u" x="617.5" y="421">"""</text>
<rect class="w" x="626" y="415" width="32.3" height="12"/><text class="u" x="642.15" y="421">Input</text>
<rect class="w" x="661.7" y="415" width="13.3" height="12"/><text class="u" x="668.35" y="421">to</text>
<rect class="w" x="676.7" y="415" width="20" height="12"/><text class="u" x="686.7" y="421">this</text>
<rect class="w" x="699.3" y="415" width="40.7" height="12"/><text class="u" x="719.65" y="421">function</text>
<rect class="w" x="742.7" y="415" width="12.3" height="12"/><text class="u" x="748.85" y="421">is</text>
<rect class="w" x="757.3" y="415" width="7.7" height="12"/><text class="u" x="761.15" y="421">a</text>
<rect class="w" x="767.7" y="415" width="32.3" height="12"/><text class="u" x="783.85" y="421">string</text>
<rect class="w" x="802.3" y="415" width="56" height="12"/><text class="u" x="830.3" y="421">representing</text>
<rect class="k" x="863.3" y="415" width="5" height="12"/>
<rect class="k" x="871.7" y="415" width="10" height="12"/>
<rect class="k" x="883.3" y="415" width="15" height="12"/>
<!-- step 4 row 3 -->
<rect class="k" x="535" y="432.3" width="15.7" height="12"/>
<rect class="b" x="553.3" y="432.3" width="31.7" height="12"/><text class="u" x="569.15" y="438.3">return</text>
<rect class="b" x="588.3" y="432.3" width="31.7" height="12"/><text class="u" x="604.15" y="438.3">list</text>
<rect class="k" x="623.3" y="432.3" width="5" height="12"/>
<rect class="k" x="630.7" y="432.3" width="9.3" height="12"/>
<rect class="b" x="643.3" y="432.3" width="63.4" height="12"/><text class="u" x="675" y="438.3">corresponding</text>
<rect class="k" x="709.3" y="432.3" width="4.7" height="12"/>
<rect class="b" x="716.7" y="432.3" width="25" height="12"/><text class="u" x="729.2" y="438.3">how</text>
<rect class="k" x="744" y="432.3" width="4.3" height="12"/>
<rect class="k" x="751.7" y="432.3" width="4.3" height="12"/>
<rect class="b" x="758.3" y="432.3" width="25.7" height="12"/><text class="u" x="771.15" y="438.3">does</text>
<rect class="k" x="786" y="432.3" width="9" height="12"/>
<rect class="k" x="797.3" y="432.3" width="21" height="12"/>
<rect class="k" x="820" y="432.3" width="28.3" height="12"/>
<text class="dots" x="857.5" y="438.3">...</text>
<!-- step 5 row 1 -->
<rect class="w" x="535" y="464" width="20.7" height="12"/><text class="u" x="545.35" y="470">from</text>
<rect class="w" x="557.7" y="464" width="32.3" height="12"/><text class="u" x="573.85" y="470">typing</text>
<rect class="w" x="591.7" y="464" width="33.3" height="12"/><text class="u" x="608.35" y="470">import</text>
<rect class="w" x="626.7" y="464" width="33.3" height="12"/><text class="u" x="643.35" y="470">list</text>
<rect class="w" x="661.7" y="464" width="8.3" height="12"/><text class="u" x="665.85" y="470">\n</text>
<rect class="w" x="672.3" y="464" width="9.4" height="12"/><text class="u" x="677" y="470">\n</text>
<rect class="w" x="684" y="464" width="9.3" height="12"/><text class="u" x="688.65" y="470">\n</text>
<rect class="w" x="696" y="464" width="15.7" height="12"/><text class="u" x="703.85" y="470">def</text>
<rect class="w" x="714" y="464" width="26" height="12"/><text class="u" x="727" y="470">parse</text>
<rect class="w" x="742.3" y="464" width="12.7" height="12"/><text class="u" x="748.65" y="470">_m</text>
<rect class="w" x="757.3" y="464" width="24.4" height="12"/><text class="u" x="769.5" y="470">usic</text>
<rect class="w" x="784" y="464" width="11" height="12"/><text class="u" x="789.5" y="470">(m</text>
<rect class="w" x="797.3" y="464" width="56" height="12"/><text class="u" x="825.3" y="470">usic_string</text>
<rect class="w" x="855.7" y="464" width="4.3" height="12"/><text class="u" x="857.85" y="470">:</text>
<rect class="w" x="862.7" y="464" width="14" height="12"/><text class="u" x="869.7" y="470">str</text>
<rect class="w" x="879" y="464" width="5.5" height="12"/><text class="u" x="881.75" y="470">)</text>
<rect class="w" x="886" y="464" width="12.3" height="12"/><text class="u" x="892.15" y="470">-&gt;</text>
<!-- step 5 row 2 -->
<rect class="w" x="535" y="482.3" width="21.7" height="12"/><text class="u" x="545.85" y="488.3">List</text>
<rect class="w" x="559.3" y="482.3" width="5.7" height="12"/><text class="u" x="562.15" y="488.3">[</text>
<rect class="w" x="566.7" y="482.3" width="16" height="12"/><text class="u" x="574.7" y="488.3">int</text>
<rect class="w" x="584" y="482.3" width="5.3" height="12"/><text class="u" x="586.65" y="488.3">]</text>
<rect class="w" x="590.7" y="482.3" width="5.3" height="12"/><text class="u" x="593.35" y="488.3">:</text>
<rect class="w" x="597.3" y="482.3" width="11" height="12"/><text class="u" x="602.8" y="488.3">\n</text>
<rect class="w" x="610" y="482.3" width="15" height="12"/><text class="u" x="617.5" y="488.3">"""</text>
<rect class="w" x="626" y="482.3" width="32.3" height="12"/><text class="u" x="642.15" y="488.3">Input</text>
<rect class="w" x="661.7" y="482.3" width="13.3" height="12"/><text class="u" x="668.35" y="488.3">to</text>
<rect class="w" x="676.7" y="482.3" width="20" height="12"/><text class="u" x="686.7" y="488.3">this</text>
<rect class="w" x="699.3" y="482.3" width="40.7" height="12"/><text class="u" x="719.65" y="488.3">function</text>
<rect class="w" x="742.7" y="482.3" width="12.3" height="12"/><text class="u" x="748.85" y="488.3">is</text>
<rect class="w" x="757.3" y="482.3" width="7.7" height="12"/><text class="u" x="761.15" y="488.3">a</text>
<rect class="w" x="767.7" y="482.3" width="32.3" height="12"/><text class="u" x="783.85" y="488.3">string</text>
<rect class="w" x="802.3" y="482.3" width="56" height="12"/><text class="u" x="830.3" y="488.3">representing</text>
<rect class="y" x="860.7" y="482.3" width="32" height="12"/><text class="u" x="876.7" y="488.3">musical</text>
<!-- step 5 row 3 -->
<rect class="y" x="535" y="499" width="25.7" height="12"/><text class="u" x="547.85" y="505">notes</text>
<rect class="y" x="562.3" y="499" width="12.7" height="12"/><text class="u" x="568.65" y="505">in</text>
<rect class="y" x="577.3" y="499" width="7.7" height="12"/><text class="u" x="581.15" y="505">a</text>
<rect class="y" x="587.3" y="499" width="32.7" height="12"/><text class="u" x="603.65" y="505">special</text>
<rect class="y" x="621.7" y="499" width="25.6" height="12"/><text class="u" x="634.5" y="505">ASCII</text>
<rect class="y" x="649.3" y="499" width="31.4" height="12"/><text class="u" x="665" y="505">format</text>
<rect class="y" x="682.7" y="499" width="4.6" height="12"/><text class="u" x="685" y="505">.</text>
<rect class="y" x="689" y="499" width="10.3" height="12"/><text class="u" x="694.15" y="505">\n</text>
<rect class="y" x="700.7" y="499" width="21" height="12"/><text class="u" x="711.2" y="505">Your</text>
<rect class="y" x="723.3" y="499" width="21.7" height="12"/><text class="u" x="734.15" y="505">task</text>
<rect class="y" x="747.3" y="499" width="10" height="12"/><text class="u" x="752.3" y="505">is</text>
<rect class="y" x="758.3" y="499" width="10" height="12"/><text class="u" x="763.3" y="505">to</text>
<rect class="y" x="770" y="499" width="26.7" height="12"/><text class="u" x="783.35" y="505">parse</text>
<rect class="y" x="799" y="499" width="24.3" height="12"/><text class="u" x="811.15" y="505">this</text>
<rect class="y" x="825.7" y="499" width="31" height="12"/><text class="u" x="841.2" y="505">string</text>
<rect class="y" x="859" y="499" width="19.3" height="12"/><text class="u" x="868.65" y="505">and</text>
<!-- step 5 row 4 -->
<rect class="w" x="535" y="516.7" width="32.3" height="12"/><text class="u" x="551.15" y="522.7">return</text>
<rect class="w" x="570" y="516.7" width="34" height="12"/><text class="u" x="587" y="522.7">list</text>
<rect class="y" x="606" y="516.7" width="11.3" height="12"/><text class="u" x="611.65" y="522.7">of</text>
<rect class="y" x="620" y="516.7" width="42.7" height="12"/><text class="u" x="641.35" y="522.7">integers</text>
<rect class="w" x="665" y="516.7" width="63.3" height="12"/><text class="u" x="696.65" y="522.7">corresponding</text>
<rect class="y" x="730.7" y="516.7" width="12.6" height="12"/><text class="u" x="737" y="522.7">to</text>
<rect class="w" x="746" y="516.7" width="27.3" height="12"/><text class="u" x="759.65" y="522.7">how</text>
<rect class="y" x="775.7" y="516.7" width="26" height="12"/><text class="u" x="788.7" y="522.7">many</text>
<rect class="y" x="804" y="516.7" width="25.3" height="12"/><text class="u" x="816.65" y="522.7">beats</text>
<rect class="w" x="831.7" y="516.7" width="26.6" height="12"/><text class="u" x="845" y="522.7">does</text>
<rect class="y" x="860.7" y="516.7" width="26.6" height="12"/><text class="u" x="874" y="522.7">each</text>
<rect class="y" x="889.3" y="516.7" width="9" height="12"/><text class="u" x="893.8" y="522.7">\n</text>
</g>

<line class="thin" x1="10" y1="544.5" x2="905" y2="544.5"/>

<g id="legend-2">
<rect class="g" x="157.5" y="556" width="16" height="10"/><text class="lg" x="180" y="561.5">Newly revealed</text>
<rect class="y" x="246" y="556" width="16" height="10"/><text class="lg" x="269" y="561.5">Extra reveals by AXON</text>
<rect class="b" x="365" y="556" width="16" height="10"/><text class="lg" x="384" y="561.5">AXON anchor (guides next steps)</text>
<rect class="k" x="513" y="556" width="17" height="10.5"/><text class="lg" x="535.5" y="561.5">Masked</text>
<rect class="w" x="577" y="556" width="16.5" height="10" stroke="#333"/><text class="lg" x="600" y="561.5">Already revealed</text>
</g>
</svg>
